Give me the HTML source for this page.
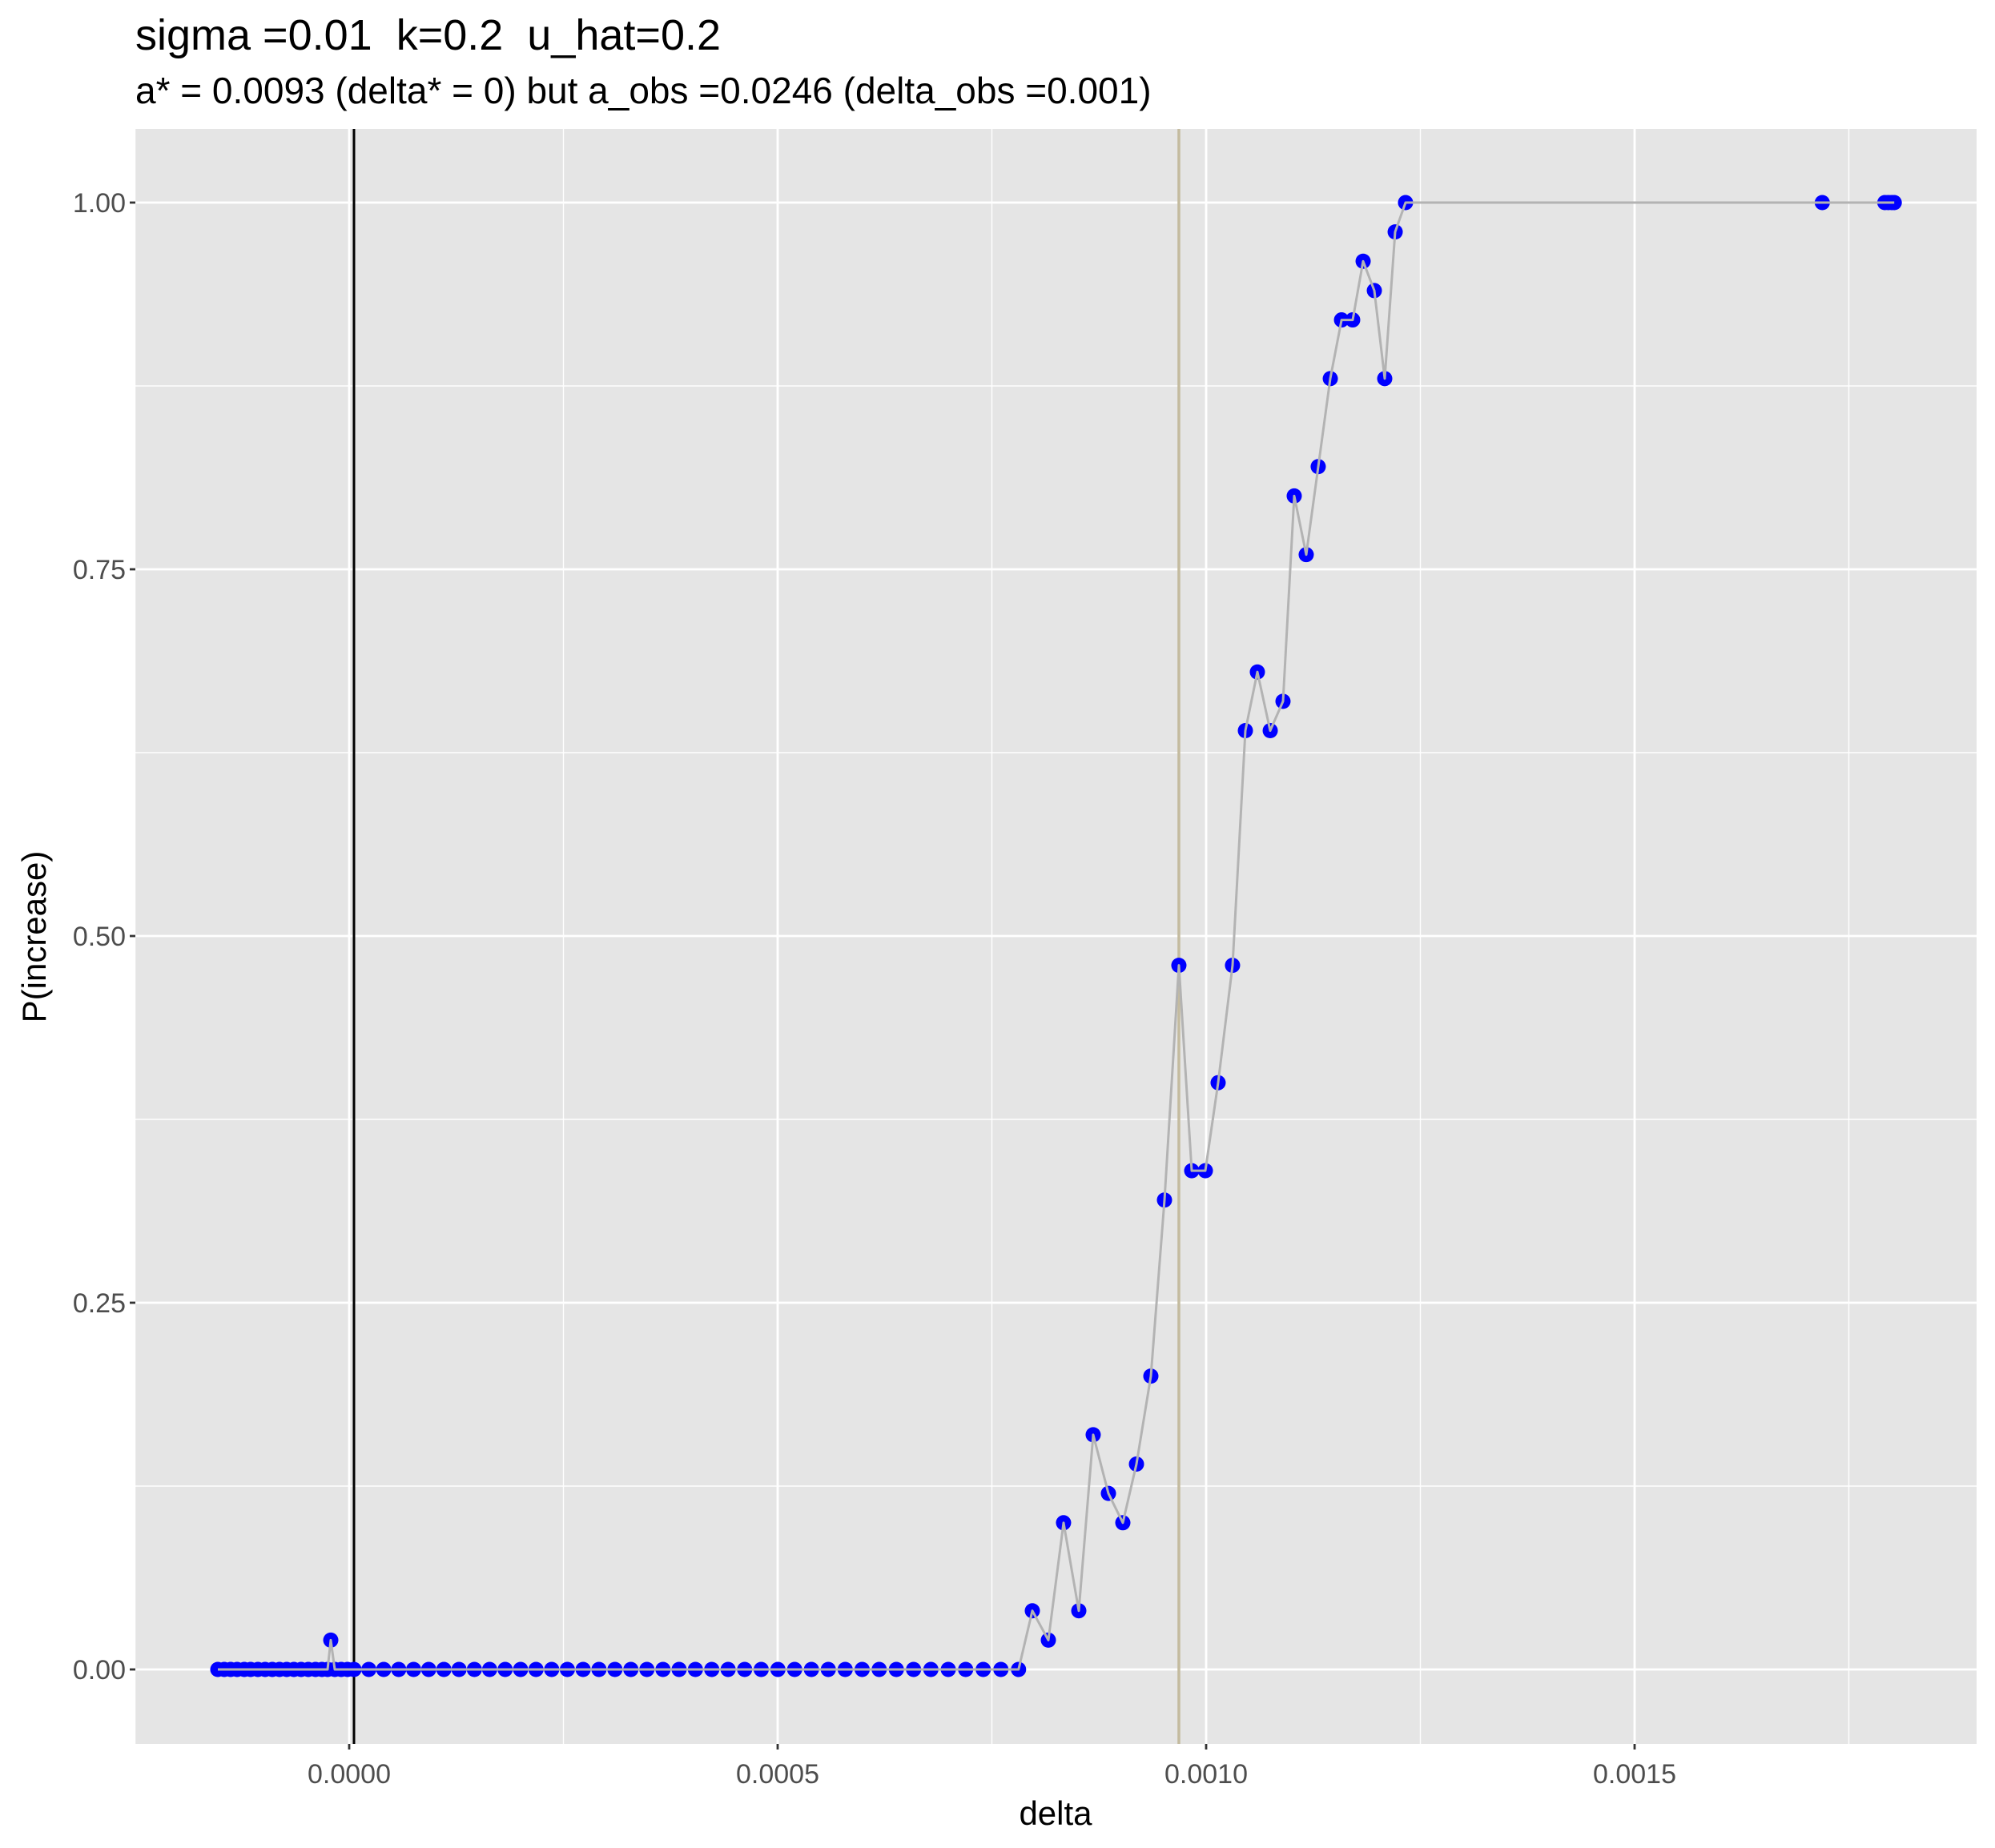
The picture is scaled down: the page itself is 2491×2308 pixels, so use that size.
<!DOCTYPE html>
<html><head><meta charset="utf-8"><style>
html,body{margin:0;padding:0;background:#fff;}
svg{display:block;font-family:"Liberation Sans",Arial,sans-serif;}
</style></head><body>
<svg id="chart" width="2491" height="2308" viewBox="0 0 2491 2308" xmlns="http://www.w3.org/2000/svg">
<text x="169" y="62" font-size="54" fill="#000" xml:space="preserve" style="white-space:pre">sigma =0.01  k=0.2  u_hat=0.2</text>
<text x="169" y="129" font-size="46" fill="#000">a* = 0.0093 (delta* = 0) but a_obs =0.0246 (delta_obs =0.001)</text>
<rect x="169" y="161" width="2299" height="2017" fill="#e5e5e5"/>
<g id="grid"></g>
<g id="vlines"></g>
<g id="series"></g>
<g id="axes"></g>
<text x="1318" y="2279" font-size="42" text-anchor="middle" fill="#000">delta</text>
<text transform="translate(57,1170) rotate(-90)" font-size="42" text-anchor="middle" fill="#000">P(increase)</text>
</svg>
<script>
// delta values (x1e-6) and P(increase)
const deltas = [-153.3,-145.8,-138.3,-130.8,-122.4,-115.0,-106.5,-98.1,-89.7,-81.3,-72.9,-64.5,-56.1,-47.7,-39.3,-31.8,-25.2,-21.5,-16.8,-9.3,-1.9,
5.6,22.9,40.3,57.8,75.2,92.8,110.5,128.2,146.1,163.9,182.0,200.0,218.0,236.3,254.6,273.0,291.5,310.1,328.7,347.4,366.2,385.0,404.0,423.1,442.2,461.5,480.8,500.3,519.8,539.4,559.1,578.8,598.6,618.5,638.5,658.6,678.8,699.1,719.4,739.9,760.5,781.1,
797.2,815.9,833.6,851.4,868.2,886.0,902.8,918.7,935.5,951.4,968.2,983.2,999.1,1014.0,1030.8,1045.8,1059.8,1074.8,1089.7,1102.8,1116.8,1130.8,1144.9,1158.0,1171.0,1183.2,1196.3,1208.4,1220.6,1232.7,
1719,1792,1796,1800,1803];
const probs = [0,0,0,0,0,0,0,0,0,0,0,0,0,0,0,0,0,0.02,0,0,0,
0,0,0,0,0,0,0,0,0,0,0,0,0,0,0,0,0,0,0,0,0,0,0,0,0,0,0,0,0,0,0,0,0,0,0,0,0,0,0,0,0,0,
0.04,0.02,0.10,0.04,0.16,0.12,0.10,0.14,0.20,0.32,0.48,0.34,0.34,0.40,0.48,0.64,0.68,0.64,0.66,0.80,0.76,0.82,0.88,0.92,0.92,0.96,0.94,0.88,0.98,1.00,
1,1,1,1,1];
const xTicks = [0,0.0005,0.001,0.0015];
const xTickLabels = ["0.0000","0.0005","0.0010","0.0015"];
const xMinor = [-0.00025,0.00025,0.00075,0.00125,0.00175];
const yTicks = [0,0.25,0.5,0.75,1];
const yTickLabels = ["0.00","0.25","0.50","0.75","1.00"];
const yMinor = [0.125,0.375,0.625,0.875];
const vlineDeltaStar = 0.0000056;
const vlineDeltaObs = 0.0009682;

const PL=169, PR=2468, PT=161, PB=2178;
const sx = d => 436 + d*1070000;
const sy = v => 2085 - v*1832;
const NS="http://www.w3.org/2000/svg";
function mk(tag, attrs, parent){const e=document.createElementNS(NS,tag);for(const k in attrs)e.setAttribute(k,attrs[k]);parent.appendChild(e);return e;}
const grid=document.getElementById('grid'), vl=document.getElementById('vlines'), ser=document.getElementById('series'), ax=document.getElementById('axes');

xMinor.forEach(d=>{const l=mk('line',{x1:sx(d),x2:sx(d),y1:PT,y2:PB,stroke:'#fff','stroke-width':1.4},grid);

});
yMinor.forEach(v=>{const l=mk('line',{x1:PL,x2:PR,y1:sy(v),y2:sy(v),stroke:'#fff','stroke-width':1.4},grid);

});
xTicks.forEach((d,i)=>{const l=mk('line',{x1:sx(d),x2:sx(d),y1:PT,y2:PB,stroke:'#fff','stroke-width':2.8},grid);


const t=mk('line',{x1:sx(d),x2:sx(d),y1:PB,y2:PB+7,stroke:'#333','stroke-width':2.8},ax);


const tx=mk('text',{x:sx(d),y:2227,'font-size':34,'text-anchor':'middle',fill:'#4d4d4d'},ax);
tx.textContent=xTickLabels[i];

});
yTicks.forEach((v,i)=>{const l=mk('line',{x1:PL,x2:PR,y1:sy(v),y2:sy(v),stroke:'#fff','stroke-width':2.8},grid);


const t=mk('line',{x1:PL-7,x2:PL,y1:sy(v),y2:sy(v),stroke:'#333','stroke-width':2.8},ax);


const tx=mk('text',{x:PL-12,y:sy(v)+12,'font-size':34,'text-anchor':'end',fill:'#4d4d4d'},ax);
tx.textContent=yTickLabels[i];

});

const v1=mk('line',{x1:sx(vlineDeltaStar),x2:sx(vlineDeltaStar),y1:PT,y2:PB,stroke:'#000','stroke-width':3},vl);


const v2=mk('line',{x1:sx(vlineDeltaObs),x2:sx(vlineDeltaObs),y1:PT,y2:PB,stroke:'#c4bb9f','stroke-width':3.5},vl);



const pts=deltas.map((d,i)=>sx(d*1e-6).toFixed(1)+','+sy(probs[i]).toFixed(1)).join(' ');
const pl=mk('polyline',{points:pts,fill:'none',stroke:'#b3b3b3','stroke-width':3,'stroke-linejoin':'round'},ser);


deltas.forEach((d,i)=>{const c=mk('circle',{cx:sx(d*1e-6),cy:sy(probs[i]),r:9.5,fill:'#0000ff'},ser);

});
ser.appendChild(pl);
</script>
</body></html>
